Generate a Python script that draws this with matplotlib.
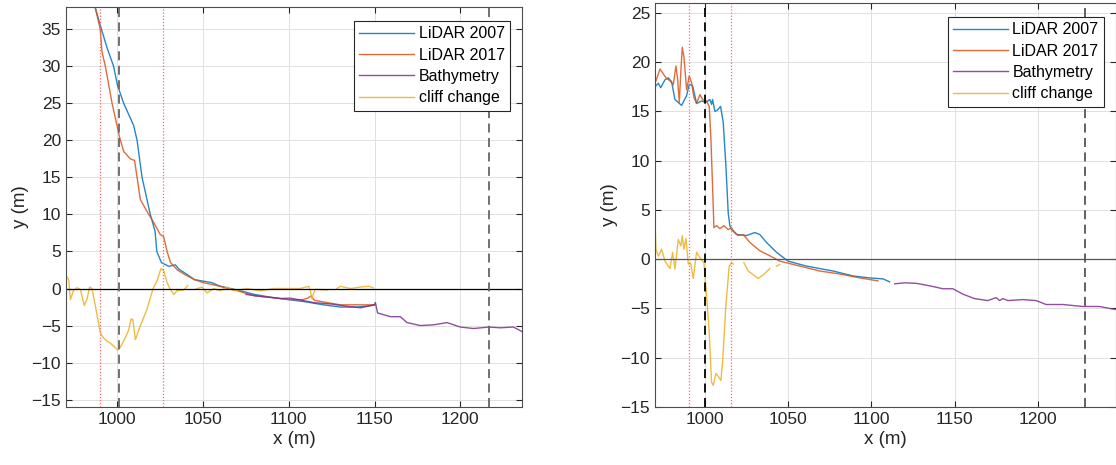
import numpy as np
import matplotlib
matplotlib.use('Agg')
import matplotlib.pyplot as plt

plt.rcParams['font.family'] = ['Liberation Sans', 'DejaVu Sans']

nan = np.nan

# ---- left profile ----
L_lidar07_x = [987, 990.7, 994, 997.8, 1000, 1003.7, 1007, 1009.5, 1011.5, 1014.4, 1017, 1019.2,
               1022, 1023, 1025.7, 1030, 1033.8, 1036, 1040, 1045, 1050, 1055, 1060, 1070, 1080,
               1090, 1100, 1110, 1120, 1130, 1140, 1148, 1150]
L_lidar07_y = [38, 35, 32.5, 30, 27.5, 25, 23.3, 22, 20, 15, 12.3, 10,
               7.7, 5, 3.5, 3.0, 3.2, 2.6, 2.0, 1.2, 1.0, 0.8, 0.3, -0.2, -0.8,
               -1.2, -1.5, -1.8, -2.2, -2.5, -2.5, -2.3, -2.2]
L_lidar17_x = [987, 990, 991, 993, 996.9, 999.8, 1001.2, 1003.7, 1007.6, 1010, 1011.5, 1013.4,
               1018.3, 1021, 1025, 1027, 1029, 1031, 1035, 1040, 1045, 1050, 1060, 1070, 1080,
               1090, 1100, 1108, 1111, 1113, 1115, 1120, 1130, 1140, 1150]
L_lidar17_y = [38, 35, 32, 30, 25, 22, 20.5, 18.5, 17.5, 17.3, 15, 12,
               10, 9, 7.3, 7, 5, 3.5, 2.5, 1.8, 1.2, 0.8, 0.3, -0.3, -1.0,
               -1.2, -1.5, -1.5, -1.3, -1.0, -1.6, -1.8, -2.2, -2.2, -2.2]
L_bathy_x = [1075, 1085, 1095, 1101, 1114.5, 1125, 1134, 1142, 1150, 1150.5, 1151.8, 1159.3,
             1165, 1169, 1176.7, 1184.5, 1192.3, 1200, 1207.8, 1216.6, 1223.4, 1231, 1236]
L_bathy_y = [-0.8, -1.1, -1.35, -1.3, -1.9, -2.1, -2.4, -2.6, -2.2, -1.9, -3.3, -3.8,
             -3.8, -4.6, -5.0, -4.9, -4.6, -5.2, -5.4, -5.2, -5.3, -5.2, -5.8]
L_cliff_x = [970.2, 971.6, 972.6, 974.5, 976.5, 978.4, 980.7, 982.3, 983.8, 985.2, 987.2, 990.1,
             992, 994, 996, 998.8, 1000.2, 1001.8, 1004.7, 1006.6, 1008, 1009, 1010.5, 1013.4,
             1017.3, 1020.8, 1023.1, 1025.4, 1027, 1029, 1030.9, 1032.9, 1034.8, 1038.7, 1041,
             1042, 1045.5, 1049.4, 1052.3, 1056.2, 1060, 1064, 1067.9, 1075.7, 1083.5, 1091.2,
             1102.9, 1106.7, 1111.6, 1112.6, 1113.5, 1114.5, 1115.5, 1122.3, 1125, 1128.1,
             1130, 1136, 1141.8, 1146.7, 1149.2]
L_cliff_y = [1.65, 1.2, -1.5, -0.2, 0.1, -0.1, -2.3, -1.4, 0.2, 0, -2.4, -6.0,
             -6.7, -7.1, -7.4, -8.0, -8.3, -7.9, -6.6, -5.6, -4.1, -4.2, -6.9, -5.0,
             -2.8, 0, 1.0, 2.7, 2.4, 0.8, -0.1, -0.8, -0.3, -0.2, 0.4,
             nan, -0.1, 0.2, -0.6, 0, -0.3, 0.2, -0.3, 0, -0.3, 0,
             0, 0, 0.3, -0.3, -1.4, -0.6, -0.1, -0.2, nan, 0,
             0.3, 0, 0.2, 0.3, 0.1]

# ---- right profile ----
R_lidar07_x = [970.6, 972, 973.4, 976, 978, 980, 982, 986, 989, 990.6, 992.6, 995, 998, 1000.6,
               1003, 1004, 1004.6, 1006, 1007.4, 1009.4, 1011, 1012.6, 1014, 1015, 1016, 1019,
               1025, 1030, 1033, 1037, 1043, 1050, 1061, 1077, 1089, 1099, 1107, 1111]
R_lidar07_y = [17.6, 17.85, 17.4, 18.2, 18.4, 18.0, 16.2, 15.6, 16.6, 17.75, 17.6, 15.8, 16.05, 15.9,
               16.2, 15.7, 16.2, 15.0, 15.1, 15.5, 13.9, 9.5, 4.7, 3.4, 3.0, 2.5,
               2.4, 2.7, 2.5, 1.7, 0.7, -0.2, -0.7, -1.2, -1.7, -1.9, -2.0, -2.3]
R_lidar17_x = [970.6, 972, 973, 974.6, 976.6, 979, 981, 982.6, 983.6, 984.6, 985.4, 986.4, 987.4,
               989, 990.6, 992, 993.4, 995, 997, 998.6, 1001, 1002.6, 1003.6, 1004.6, 1005.4,
               1007, 1009, 1011.4, 1014, 1016, 1017, 1020, 1023, 1027, 1033, 1039, 1045, 1057,
               1069, 1081, 1093, 1104]
R_lidar17_y = [18.1, 18.8, 19.3, 18.9, 18.4, 18.1, 17.7, 19.6, 18.3, 15.9, 18.6, 21.5, 20.5,
               17.2, 18.6, 17.9, 16.4, 15.8, 16.7, 16.2, 16.05, 15.5, 12.2, 7.4, 3.2,
               3.4, 3.1, 3.4, 3.0, 3.2, 2.9, 2.4, 2.5, 1.7, 0.85, 0.35, -0.2, -0.7,
               -1.2, -1.5, -1.9, -2.2]
R_bathy_x = [1114, 1120, 1127, 1135, 1143, 1149, 1155, 1162, 1170, 1175, 1177, 1179, 1182,
             1191, 1199, 1205, 1215, 1227, 1237, 1246.5]
R_bathy_y = [-2.5, -2.4, -2.45, -2.7, -3.0, -3.0, -3.55, -4.0, -4.2, -3.9, -4.2, -4.0, -4.2,
             -4.1, -4.2, -4.6, -4.6, -4.8, -4.8, -5.1]
R_cliff_x = [970, 970.6, 972, 974, 976, 979, 980.6, 982, 984, 985.6, 986.4, 987.4, 988.6, 990,
             991.4, 993, 995, 997, 999.4, 1001, 1002.6, 1004, 1005, 1006.6, 1008, 1009.6,
             1010.6, 1012.6, 1014.6, 1016, 1017, 1020, 1023.4, 1026, 1032, 1035, 1039, 1041,
             1043, 1045]
R_cliff_y = [3.9, 1.0, 0.3, 1.0, -0.2, -0.95, 0.7, -1.0, 2.0, 1.35, 2.4, 1.0, 2.1, -0.5,
             -0.4, -1.95, 0.7, 0.15, -0.35, -3.7, -7.4, -12.5, -12.8, -11.6, -11.9, -12.3,
             -10.5, -4.7, -0.7, -0.35, -0.5, nan, -0.35, -1.2, -1.95, -1.6, -0.95, nan,
             -0.7, -0.55]

labels = ['LiDAR 2007', 'LiDAR 2017', 'Bathymetry', 'cliff change']
colors = ['#0072BD', '#D95319', '#7E2F8E', '#EDB120']

panels = [
    dict(rect=[0.0591, 0.1247, 0.4086, 0.860], xlim=(970, 1236), ylim=(-16, 38),
         yticks=np.arange(-15, 36, 5), red=[990, 1026.6], black=[(1001, '#666666'), (1217, '#666666')],
         zero='k', legend_anchor=(0.974, 0.966),
         series=[(L_lidar07_x, L_lidar07_y), (L_lidar17_x, L_lidar17_y),
                 (L_bathy_x, L_bathy_y), (L_cliff_x, L_cliff_y)]),
    dict(rect=[0.5869, 0.1247, 0.4131, 0.869], xlim=(970, 1247), ylim=(-15, 26),
         yticks=np.arange(-15, 26, 5), red=[990.2, 1015.4], black=[(1000.2, 'k'), (1228.4, '#555555')],
         zero='#555555', legend_anchor=(0.974, 0.966),
         series=[(R_lidar07_x, R_lidar07_y), (R_lidar17_x, R_lidar17_y),
                 (R_bathy_x, R_bathy_y), (R_cliff_x, R_cliff_y)]),
]

fig = plt.figure(figsize=(11.16, 4.65), dpi=100)

for p in panels:
    ax = fig.add_axes(p['rect'])
    for (x, y), lab, c in zip(p['series'], labels, colors):
        ax.plot(x, y, color=c, lw=1.0, alpha=0.85, label=lab)
    ax.axhline(0, color=p['zero'], lw=0.9)
    for xv in p['red']:
        ax.axvline(xv, color='#ff6666', ls=(0, (1, 1.5)), lw=0.9)
    for xv, c in p['black']:
        ax.axvline(xv, color=c, ls=(0, (5, 3)), lw=1.3)
    ax.set_xlim(*p['xlim'])
    ax.set_ylim(*p['ylim'])
    ax.set_xticks([1000, 1050, 1100, 1150, 1200])
    ax.set_yticks(p['yticks'])
    ax.grid(True, color='#e0e0e0', lw=0.7)
    ax.set_axisbelow(True)
    ax.tick_params(direction='in', top=True, right=True, labelsize=12.5,
                   colors='#262626', length=4)
    for s in ax.spines.values():
        s.set_color('#4d4d4d')
        s.set_linewidth(0.8)
    ax.set_xlabel('x (m)', fontsize=13.5, color='#262626', labelpad=3)
    ax.set_ylabel('y (m)', fontsize=13.5, color='#262626', labelpad=2)
    leg = ax.legend(loc='upper right', bbox_to_anchor=p['legend_anchor'], fontsize=11.5,
                    fancybox=False, framealpha=1, edgecolor='#262626', borderaxespad=0,
                    handlelength=3.4, labelspacing=0.4, borderpad=0.35, handletextpad=0.3)
    leg.get_frame().set_linewidth(0.8)

fig.savefig('out.png', dpi=100)
